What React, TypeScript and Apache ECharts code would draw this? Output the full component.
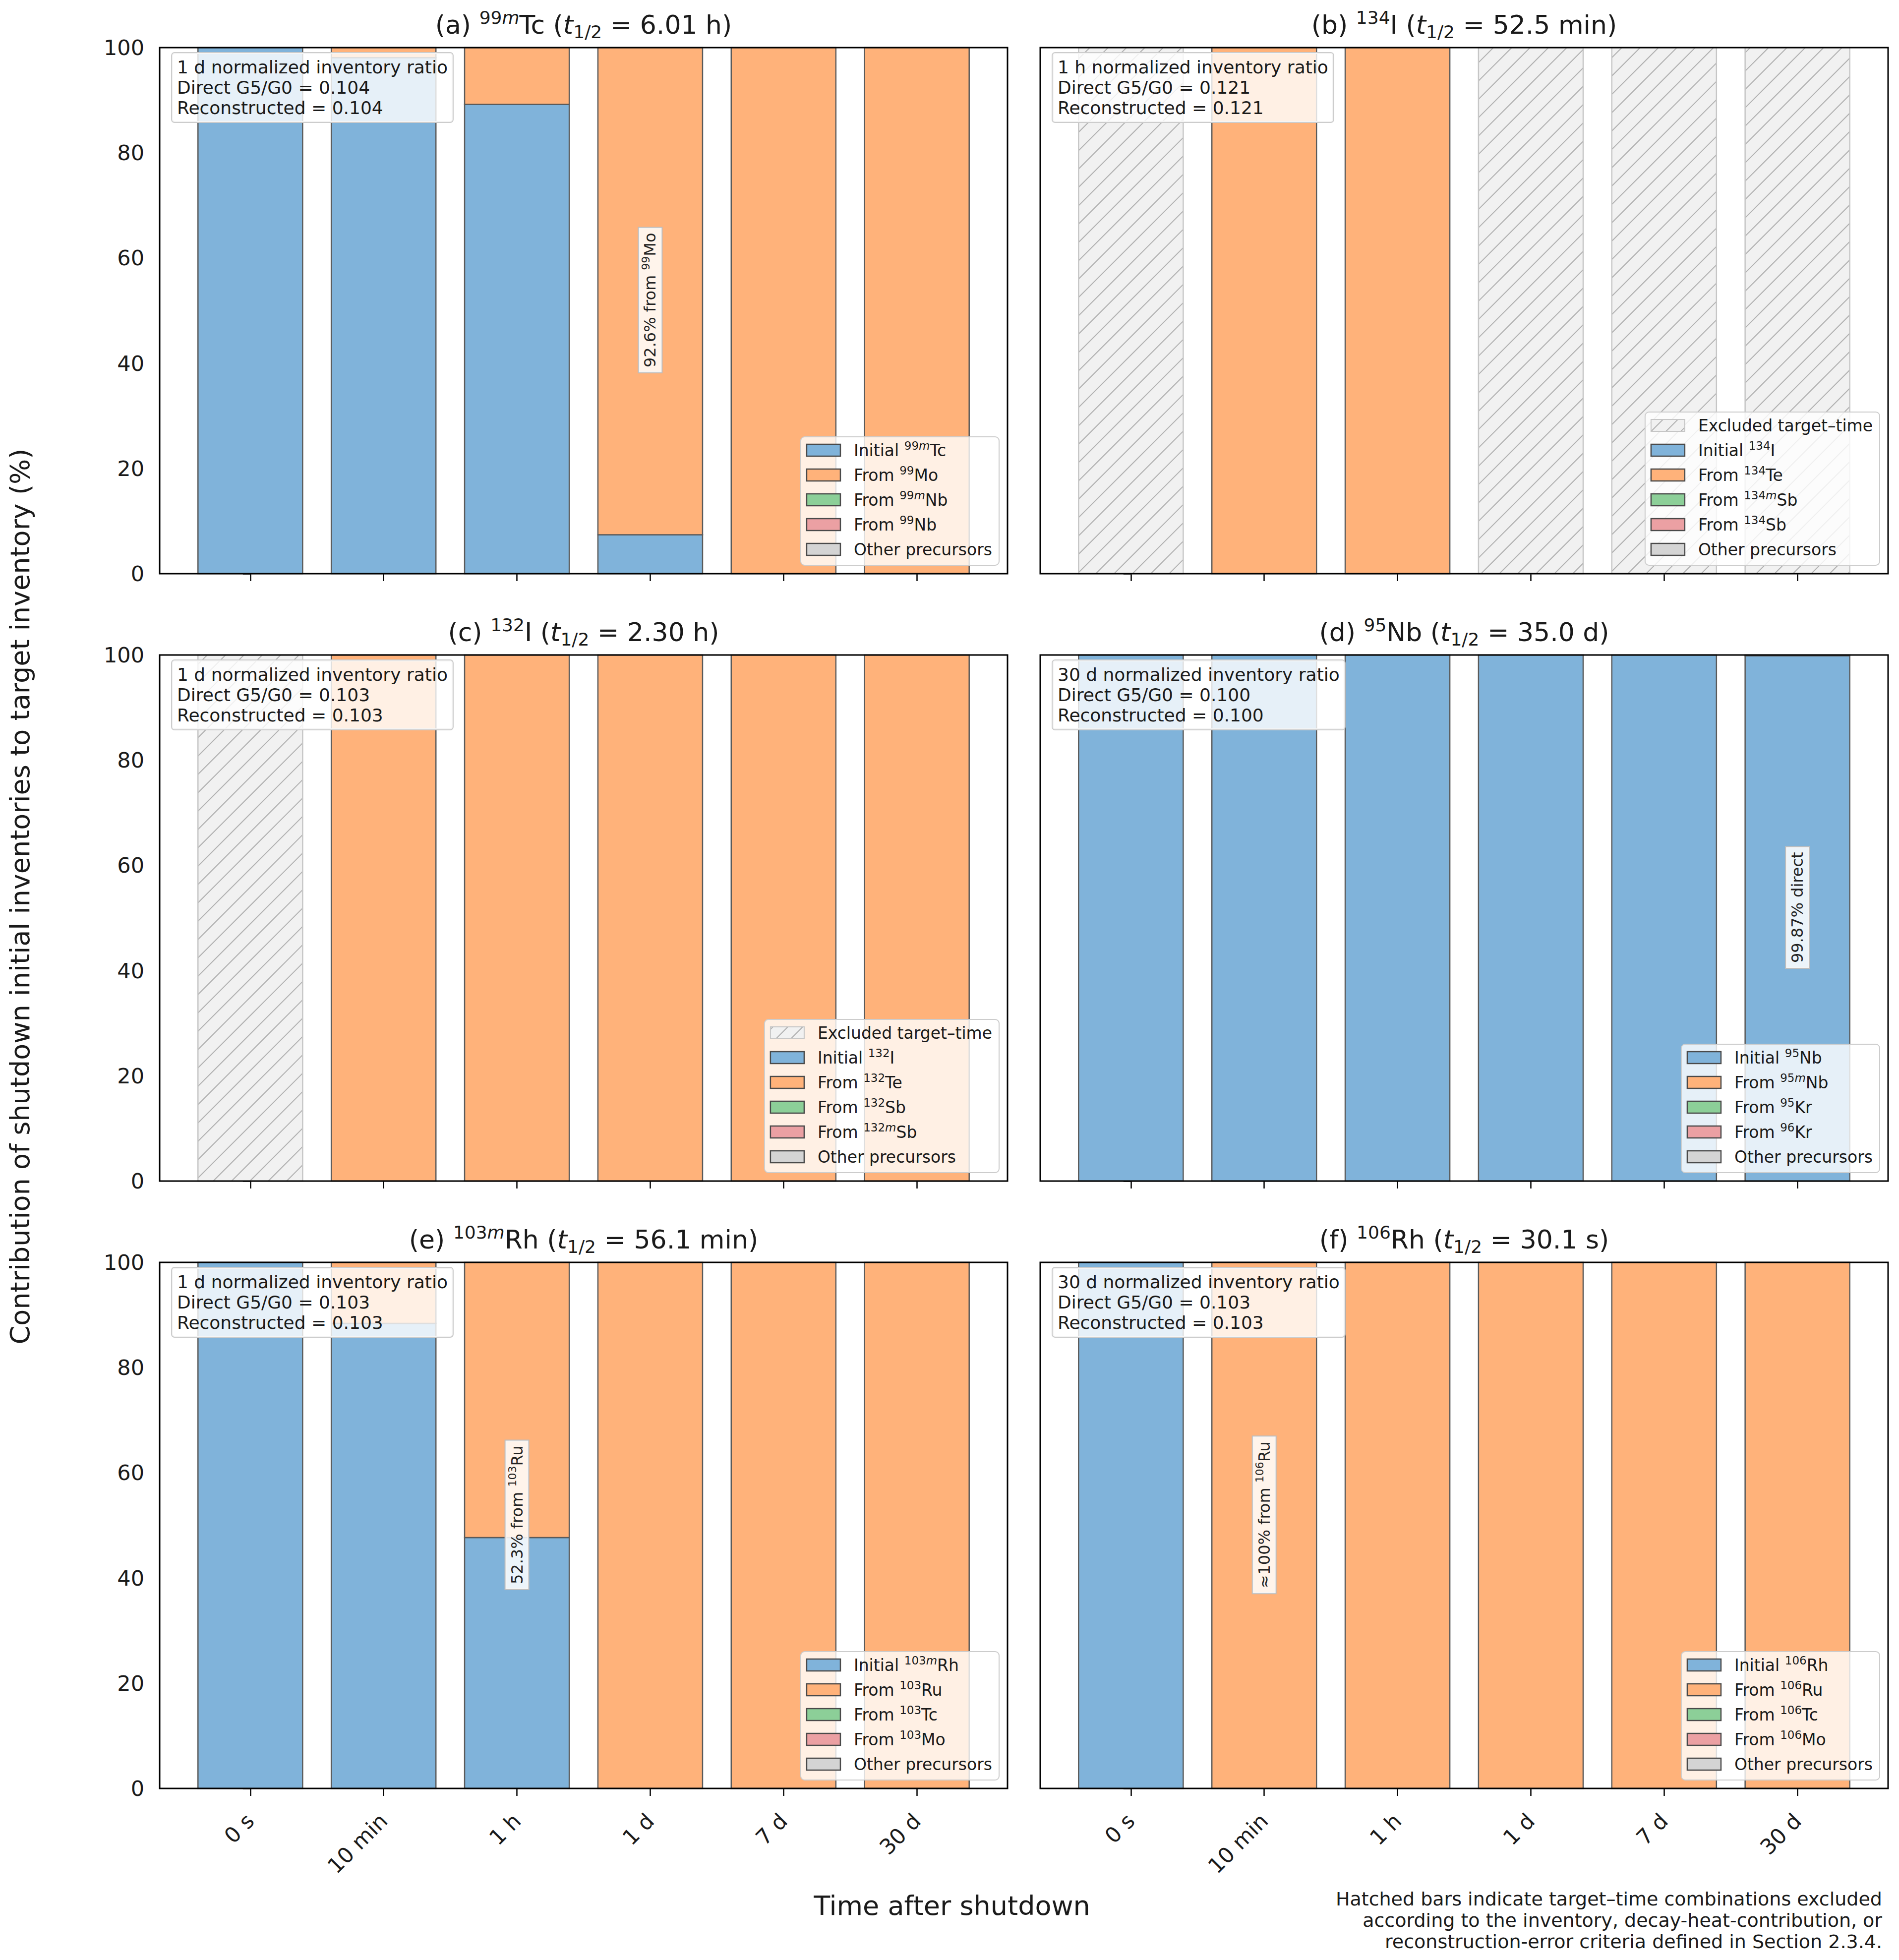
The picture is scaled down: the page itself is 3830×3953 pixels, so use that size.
import React, { useEffect, useRef } from "react";
import * as echarts from "echarts";

// ---------------- data ----------------
const TIMES = ["0 s", "10 min", "1 h", "1 d", "7 d", "30 d"];
const TIME_POS = [0, 1, 2, 3, 4, 5];
const Y_TICKS_STEP = 20;

// (a) 99mTc
const A_TITLE = "(a) ^{99m}Tc ($t$_{1/2} = 6.01 h)";
const A_INITIAL = [100, 98.1, 89.2, 7.4, 0, 0];
const A_FROM1 = [0, 1.9, 10.8, 92.6, 100, 100];
const A_FROM2 = [0, 0, 0, 0, 0, 0];
const A_FROM3 = [0, 0, 0, 0, 0, 0];
const A_OTHER = [0, 0, 0, 0, 0, 0];
const A_EXCL = [0, 0, 0, 0, 0, 0];
const A_BOX = ["1 d normalized inventory ratio", "Direct G5/G0 = 0.104", "Reconstructed = 0.104"];
const A_LEGEND = ["Initial ^{99m}Tc", "From ^{99}Mo", "From ^{99m}Nb", "From ^{99}Nb", "Other precursors"];
const A_NOTE = { time: 3, y: 52, text: "92.6% from ^{99}Mo" };

// (b) 134I
const B_TITLE = "(b) ^{134}I ($t$_{1/2} = 52.5 min)";
const B_INITIAL = [0, 0, 0, 0, 0, 0];
const B_FROM1 = [0, 100, 100, 0, 0, 0];
const B_FROM2 = [0, 0, 0, 0, 0, 0];
const B_FROM3 = [0, 0, 0, 0, 0, 0];
const B_OTHER = [0, 0, 0, 0, 0, 0];
const B_EXCL = [1, 0, 0, 1, 1, 1];
const B_BOX = ["1 h normalized inventory ratio", "Direct G5/G0 = 0.121", "Reconstructed = 0.121"];
const B_LEGEND = ["Initial ^{134}I", "From ^{134}Te", "From ^{134m}Sb", "From ^{134}Sb", "Other precursors"];

// (c) 132I
const C_TITLE = "(c) ^{132}I ($t$_{1/2} = 2.30 h)";
const C_INITIAL = [0, 0, 0, 0, 0, 0];
const C_FROM1 = [0, 100, 100, 100, 100, 100];
const C_FROM2 = [0, 0, 0, 0, 0, 0];
const C_FROM3 = [0, 0, 0, 0, 0, 0];
const C_OTHER = [0, 0, 0, 0, 0, 0];
const C_EXCL = [1, 0, 0, 0, 0, 0];
const C_BOX = ["1 d normalized inventory ratio", "Direct G5/G0 = 0.103", "Reconstructed = 0.103"];
const C_LEGEND = ["Initial ^{132}I", "From ^{132}Te", "From ^{132}Sb", "From ^{132m}Sb", "Other precursors"];

// (d) 95Nb
const D_TITLE = "(d) ^{95}Nb ($t$_{1/2} = 35.0 d)";
const D_INITIAL = [100, 100, 100, 100, 100, 99.87];
const D_FROM1 = [0, 0, 0, 0, 0, 0.13];
const D_FROM2 = [0, 0, 0, 0, 0, 0];
const D_FROM3 = [0, 0, 0, 0, 0, 0];
const D_OTHER = [0, 0, 0, 0, 0, 0];
const D_EXCL = [0, 0, 0, 0, 0, 0];
const D_BOX = ["30 d normalized inventory ratio", "Direct G5/G0 = 0.100", "Reconstructed = 0.100"];
const D_LEGEND = ["Initial ^{95}Nb", "From ^{95m}Nb", "From ^{95}Kr", "From ^{96}Kr", "Other precursors"];
const D_NOTE = { time: 5, y: 52, text: "99.87% direct" };

// (e) 103mRh
const E_TITLE = "(e) ^{103m}Rh ($t$_{1/2} = 56.1 min)";
const E_INITIAL = [100, 88.4, 47.7, 0, 0, 0];
const E_FROM1 = [0, 11.6, 52.3, 100, 100, 100];
const E_FROM2 = [0, 0, 0, 0, 0, 0];
const E_FROM3 = [0, 0, 0, 0, 0, 0];
const E_OTHER = [0, 0, 0, 0, 0, 0];
const E_EXCL = [0, 0, 0, 0, 0, 0];
const E_BOX = ["1 d normalized inventory ratio", "Direct G5/G0 = 0.103", "Reconstructed = 0.103"];
const E_LEGEND = ["Initial ^{103m}Rh", "From ^{103}Ru", "From ^{103}Tc", "From ^{103}Mo", "Other precursors"];
const E_NOTE = { time: 2, y: 52, text: "52.3% from ^{103}Ru" };

// (f) 106Rh
const F_TITLE = "(f) ^{106}Rh ($t$_{1/2} = 30.1 s)";
const F_INITIAL = [100, 0, 0, 0, 0, 0];
const F_FROM1 = [0, 100, 100, 100, 100, 100];
const F_FROM2 = [0, 0, 0, 0, 0, 0];
const F_FROM3 = [0, 0, 0, 0, 0, 0];
const F_OTHER = [0, 0, 0, 0, 0, 0];
const F_EXCL = [0, 0, 0, 0, 0, 0];
const F_BOX = ["30 d normalized inventory ratio", "Direct G5/G0 = 0.103", "Reconstructed = 0.103"];
const F_LEGEND = ["Initial ^{106}Rh", "From ^{106}Ru", "From ^{106}Tc", "From ^{106}Mo", "Other precursors"];
const F_NOTE = { time: 1, y: 52, text: "\u2248100% from ^{106}Ru" };

const EXCL_LABEL = "Excluded target\u2013time";
const Y_LABEL = "Contribution of shutdown initial inventories to target inventory (%)";
const X_LABEL = "Time after shutdown";
const FOOT_NOTE = [
  "Hatched bars indicate target\u2013time combinations excluded",
  "according to the inventory, decay-heat-contribution, or",
  "reconstruction-error criteria defined in Section 2.3.4.",
];

type Note = { time: number; y: number; text: string } | null;
type Panel = {
  title: string;
  comps: number[][];
  excl: number[];
  box: string[];
  legend: string[];
  note: Note;
};

const PANELS: Panel[] = [
  { title: A_TITLE, comps: [A_INITIAL, A_FROM1, A_FROM2, A_FROM3, A_OTHER], excl: A_EXCL, box: A_BOX, legend: A_LEGEND, note: A_NOTE },
  { title: B_TITLE, comps: [B_INITIAL, B_FROM1, B_FROM2, B_FROM3, B_OTHER], excl: B_EXCL, box: B_BOX, legend: B_LEGEND, note: null },
  { title: C_TITLE, comps: [C_INITIAL, C_FROM1, C_FROM2, C_FROM3, C_OTHER], excl: C_EXCL, box: C_BOX, legend: C_LEGEND, note: null },
  { title: D_TITLE, comps: [D_INITIAL, D_FROM1, D_FROM2, D_FROM3, D_OTHER], excl: D_EXCL, box: D_BOX, legend: D_LEGEND, note: D_NOTE },
  { title: E_TITLE, comps: [E_INITIAL, E_FROM1, E_FROM2, E_FROM3, E_OTHER], excl: E_EXCL, box: E_BOX, legend: E_LEGEND, note: E_NOTE },
  { title: F_TITLE, comps: [F_INITIAL, F_FROM1, F_FROM2, F_FROM3, F_OTHER], excl: F_EXCL, box: F_BOX, legend: F_LEGEND, note: F_NOTE },
];

// ---------------- layout & style ----------------
const W = 3830;
const H = 3953;
const GRID_W = 1710;
const GRID_H = 1061;
const COL_X = [322, 2098];
const ROW_Y = [96, 1321, 2546];
const X_MIN = -0.68;
const X_MAX = 5.68;
const BAR_HALF = 0.3925;
const FONT = "'DejaVu Sans'";
const TXT = "#1a1a1a";
const COLORS = ["#80b3da", "#ffb27a", "#8ccf98", "#eba0a3", "#d4d4d4"];
const EDGE = "#5a5a5a";
const HATCH_FILL = "#f1f1f1";
const HATCH_EDGE = "#c6c6c6";
const HATCH_LINE = "#b0b0b0";
const HATCH_STEP = 37;

// ---------------- helpers ----------------
type Tok = { st: string; t: string };
function parseRich(s: string): Tok[] {
  const out: Tok[] = [];
  let i = 0;
  let buf = "";
  let italic = false;
  const flush = () => {
    if (buf) {
      out.push({ st: italic ? "i" : "n", t: buf });
      buf = "";
    }
  };
  while (i < s.length) {
    const c = s[i];
    if ((c === "^" || c === "_") && s[i + 1] === "{") {
      flush();
      const end = s.indexOf("}", i);
      const inner = s.slice(i + 2, end);
      if (c === "_") out.push({ st: "b", t: inner });
      else {
        let cur = "";
        let curIt = false;
        for (const ch of inner) {
          const it = /[a-z]/i.test(ch);
          if (cur && it !== curIt) {
            out.push({ st: curIt ? "si" : "s", t: cur });
            cur = "";
          }
          cur += ch;
          curIt = it;
        }
        if (cur) out.push({ st: curIt ? "si" : "s", t: cur });
      }
      i = end + 1;
      continue;
    }
    if (c === "$") {
      flush();
      italic = !italic;
      i++;
      continue;
    }
    buf += c;
    i++;
  }
  flush();
  return out;
}
const toRich = (toks: Tok[]) => toks.map((k) => `{${k.st}|${k.t}}`).join("");

function richStyles(F: number, color: string) {
  const L = Math.round(F * 1.25);
  const base: any = { fontFamily: FONT, fill: color, color };
  const sf = Math.round(F * 0.7);
  return {
    n: { ...base, fontSize: F, lineHeight: L },
    i: { ...base, fontSize: F, lineHeight: L, fontStyle: "italic" },
    s: { ...base, fontSize: sf, lineHeight: Math.round(L - 0.54 * F), verticalAlign: "top" },
    si: { ...base, fontSize: sf, lineHeight: Math.round(L - 0.54 * F), verticalAlign: "top", fontStyle: "italic" },
    b: { ...base, fontSize: sf, lineHeight: Math.round(L - 0.56 * F), verticalAlign: "bottom" },
  };
}

let measureCtx: CanvasRenderingContext2D | null = null;
function measure(toks: Tok[], F: number) {
  if (!measureCtx) measureCtx = document.createElement("canvas").getContext("2d");
  let w = 0;
  for (const k of toks) {
    const fs = k.st === "n" || k.st === "i" ? F : Math.round(F * 0.7);
    const it = k.st === "i" || k.st === "si";
    measureCtx!.font = `${it ? "italic " : ""}${fs}px 'DejaVu Sans'`;
    w += measureCtx!.measureText(k.t).width;
  }
  return w;
}

function hatchLines(x0: number, y0: number, x1: number, y1: number, step: number) {
  const res: number[][] = [];
  const cStart = Math.ceil((x0 + y0) / step) * step;
  for (let c = cStart; c <= x1 + y1; c += step) {
    const xa = Math.max(x0, c - y1);
    const xb = Math.min(x1, c - y0);
    if (xb - xa > 0.5) res.push([xa, c - xa, xb, c - xb]);
  }
  return res;
}

function hatchElements(x: number, y: number, w: number, h: number, lw: number, step: number, z?: number) {
  const withZ = (el: any) => (z !== undefined ? { ...el, z } : el);
  const children: any[] = [
    withZ({ type: "rect", shape: { x, y, width: w, height: h }, style: { fill: HATCH_FILL, stroke: "none" } }),
  ];
  for (const l of hatchLines(x, y, x + w, y + h, step)) {
    children.push(
      withZ({
        type: "line",
        shape: { x1: l[0], y1: l[1], x2: l[2], y2: l[3] },
        style: { stroke: HATCH_LINE, lineWidth: 2 },
      })
    );
  }
  children.push(
    withZ({
      type: "rect",
      shape: { x, y, width: w, height: h },
      style: { fill: "none", stroke: HATCH_EDGE, lineWidth: lw },
    })
  );
  return children;
}

function barData(p: Panel) {
  const out: number[][] = [];
  TIME_POS.forEach((t, i) => {
    if (p.excl[i]) {
      out.push([t, 0, 100, 5]);
      return;
    }
    let acc = 0;
    p.comps.forEach((arr, k) => {
      const v = arr[i];
      if (v > 0) {
        out.push([t, acc, acc + v, k]);
        acc += v;
      }
    });
  });
  return out;
}

function renderBar(params: any, api: any) {
  const x = api.value(0);
  const y0 = api.value(1);
  const y1 = api.value(2);
  const kind = api.value(3);
  const tl = api.coord([x - BAR_HALF, y1]);
  const br = api.coord([x + BAR_HALF, y0]);
  const rx = tl[0];
  const ry = tl[1];
  const w = br[0] - tl[0];
  const h = br[1] - tl[1];
  if (kind === 5) return { type: "group", children: hatchElements(rx, ry, w, h, 2.5, HATCH_STEP) };
  return {
    type: "rect",
    shape: { x: rx, y: ry, width: w, height: h },
    style: { fill: COLORS[kind], stroke: EDGE, lineWidth: 2.5 },
  };
}

function buildOption() {
  const grid: any[] = [];
  const xAxis: any[] = [];
  const yAxis: any[] = [];
  const series: any[] = [];
  const graphic: any[] = [];
  const tickStyle = { color: "#000", width: 2.5 };

  PANELS.forEach((p, idx) => {
    const col = idx % 2;
    const row = Math.floor(idx / 2);
    const left = COL_X[col];
    const top = ROW_Y[row];
    grid.push({ left, top, width: GRID_W, height: GRID_H, containLabel: false });
    xAxis.push({
      gridIndex: idx,
      type: "value",
      min: X_MIN,
      max: X_MAX,
      axisLine: { show: false },
      splitLine: { show: false },
      axisTick: { show: true, customValues: TIME_POS, length: 15, lineStyle: tickStyle },
      axisLabel: {
        show: row === 2,
        customValues: TIME_POS,
        formatter: (v: number) => TIMES[Math.round(v)] ?? "",
        rotate: 45,
        margin: 58,
        fontSize: 43,
        fontFamily: FONT,
        color: TXT,
      },
    });
    yAxis.push({
      gridIndex: idx,
      type: "value",
      min: 0,
      max: 100,
      interval: Y_TICKS_STEP,
      axisLine: { show: false },
      splitLine: { show: false },
      axisTick: { show: true, length: 15, lineStyle: tickStyle },
      axisLabel: { show: col === 0, margin: 31, fontSize: 43, fontFamily: FONT, color: TXT },
    });
    series.push({
      type: "custom",
      xAxisIndex: idx,
      yAxisIndex: idx,
      silent: true,
      z: 2,
      renderItem: renderBar,
      encode: { x: 0, y: [1, 2] },
      data: barData(p),
    });
    if (p.note) {
      const note = p.note;
      series.push({
        type: "custom",
        xAxisIndex: idx,
        yAxisIndex: idx,
        silent: true,
        z: 4,
        renderItem: (params: any, api: any) => {
          const pt = api.coord([api.value(0), api.value(1)]);
          return {
            type: "text",
            x: pt[0],
            y: pt[1],
            rotation: Math.PI / 2,
            style: {
              text: toRich(parseRich(note.text)),
              rich: richStyles(32, "#222"),
              align: "center",
              verticalAlign: "middle",
              backgroundColor: "rgba(255,255,255,0.85)",
              borderColor: "#bdbdbd",
              borderWidth: 2,
              padding: [3, 10, 3, 10],
            },
          };
        },
        encode: { x: 0, y: 1 },
        data: [[note.time, note.y]],
      });
    }

    // title
    graphic.push({
      type: "text",
      z: 20,
      x: left + GRID_W / 2,
      y: top - 46,
      style: {
        text: toRich(parseRich(p.title)),
        rich: richStyles(52, TXT),
        align: "center",
        verticalAlign: "middle",
      },
    });

    // info text box
    graphic.push({
      type: "text",
      z: 20,
      x: left + 25,
      y: top + 11,
      style: {
        text: p.box.join("\n"),
        fontSize: 36,
        fontFamily: FONT,
        lineHeight: 41,
        fill: TXT,
        align: "left",
        verticalAlign: "top",
        padding: [8, 10, 8, 10],
        backgroundColor: "rgba(255,255,255,0.8)",
        borderColor: "#cccccc",
        borderWidth: 2,
        borderRadius: 5,
      },
    });

    // legend
    const hasExcl = p.excl.some((e) => e);
    const entries: { label: string; kind: number }[] = [];
    if (hasExcl) entries.push({ label: EXCL_LABEL, kind: 5 });
    p.legend.forEach((l, k) => entries.push({ label: l, kind: k }));
    const LF = 33;
    const maxW = Math.max(...entries.map((e) => measure(parseRich(e.label), LF)));
    const bw = 107 + maxW + 14;
    const bh = 54 + (entries.length - 1) * 50 + 5;
    const bx = left + GRID_W - 17 - bw;
    const by = top + GRID_H - 17 - bh;
    graphic.push({
      type: "rect",
      z: 20,
      shape: { x: bx, y: by, width: bw, height: bh, r: 8 },
      style: { fill: "rgba(255,255,255,0.8)", stroke: "#cccccc", lineWidth: 2 },
    });
    entries.forEach((e, k) => {
      const cy = by + 27 + k * 50;
      if (e.kind === 5) {
        hatchElements(bx + 12, cy - 12, 68, 24, 2, 30, 22).forEach((el) => graphic.push(el));
      } else {
        graphic.push({
          type: "rect",
          z: 22,
          shape: { x: bx + 12, y: cy - 12, width: 68, height: 24 },
          style: { fill: COLORS[e.kind], stroke: "#4a4a4a", lineWidth: 2.5 },
        });
      }
      graphic.push({
        type: "text",
        z: 22,
        x: bx + 107,
        y: cy,
        style: {
          text: toRich(parseRich(e.label)),
          rich: richStyles(LF, TXT),
          align: "left",
          verticalAlign: "middle",
        },
      });
    });

    // frame (spines)
    graphic.push({
      type: "rect",
      z: 30,
      shape: { x: left, y: top, width: GRID_W, height: GRID_H },
      style: { fill: "none", stroke: "#000", lineWidth: 3 },
    });
  });

  graphic.push({
    type: "text",
    z: 20,
    x: 40,
    y: 1808,
    rotation: Math.PI / 2,
    style: { text: Y_LABEL, fontSize: 54, fontFamily: FONT, fill: TXT, align: "center", verticalAlign: "middle" },
  });
  graphic.push({
    type: "text",
    z: 20,
    x: 1920,
    y: 3843,
    style: { text: X_LABEL, fontSize: 54, fontFamily: FONT, fill: TXT, align: "center", verticalAlign: "middle" },
  });
  graphic.push({
    type: "text",
    z: 20,
    x: 3796,
    y: 3873,
    style: {
      text: FOOT_NOTE.join("\n"),
      fontSize: 38,
      lineHeight: 43,
      fontFamily: FONT,
      fill: TXT,
      align: "right",
      verticalAlign: "middle",
    },
  });

  return {
    animation: false,
    backgroundColor: "#ffffff",
    textStyle: { fontFamily: FONT },
    grid,
    xAxis,
    yAxis,
    series,
    graphic,
  };
}

export default function App() {
  const ref = useRef<HTMLDivElement>(null);
  useEffect(() => {
    if (!ref.current) return;
    const chart = echarts.init(ref.current, null, { renderer: "svg", width: W, height: H });
    chart.setOption(buildOption() as any);
    return () => chart.dispose();
  }, []);
  return (
    <div
      ref={ref}
      style={{ position: "absolute", left: 0, top: 0, width: W, height: H, background: "#fff" }}
    />
  );
}
